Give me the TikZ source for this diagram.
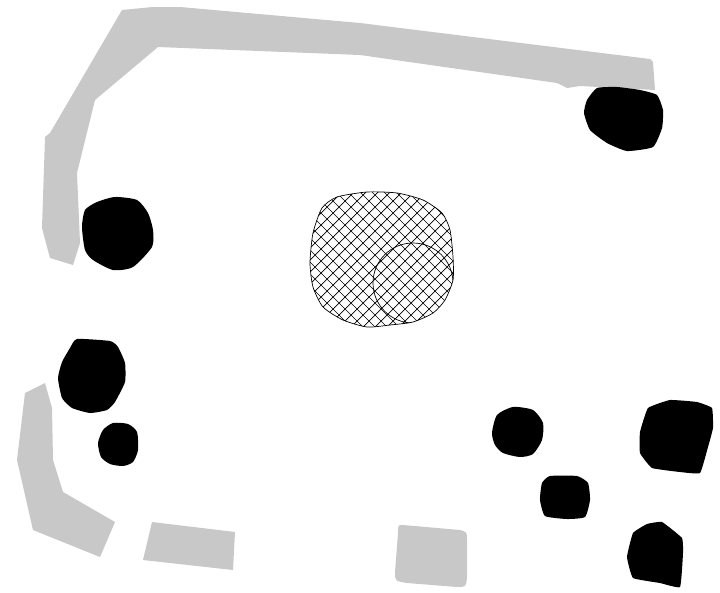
\documentclass[tikz,border=0pt]{standalone}
\begin{document}
\begin{tikzpicture}[x=1pt,y=-1pt,
  greyblock/.style={fill=greyc,draw=none},
  blackblob/.style={fill=black,draw=none},
  hatchline/.style={line width=0.7pt,black},
  outline/.style={line width=0.7pt,black}]
\definecolor{greyc}{RGB}{200,200,200}
\useasboundingbox[fill=white] (0,0) rectangle (720,592);
% grey top bracket
\fill[greyc] (122,10) -- (153,7) -- (180,7) -- (360,23) -- (650,59) -- (653,62) -- (655,90)
  -- (580,86) -- (567,88) -- (557,83) -- (360,55) -- (158,47) -- (95,100) -- (77,173)
  -- (80,243) -- (73,265) -- (50,258) -- (42,228) -- (45,137) -- (50,133) -- cycle;
% grey lower-left L
\fill[greyc] (25,393) -- (45,383) -- (52,408) -- (53,460) -- (63,492) -- (115,522)
  -- (100,557) -- (33,530) -- (17,460) -- cycle;
% grey bottom rectangle
\fill[greyc] (152,522) -- (235,532) -- (233,570) -- (143,560) -- cycle;
% grey rounded square
\fill[greyc] (403,525) -- (460,530) .. controls (467,532) .. (467,540) -- (467,577)
  .. controls (466,587) .. (457,587) -- (407,583) .. controls (395,581) .. (395,572)
  -- (398,533) .. controls (398,525) .. (403,525) -- cycle;
% black blobs
\fill[black] plot[smooth cycle,tension=0.4] coordinates {(97,202) (115,197) (137,200) (148,213) (153,230) (152,247) (133,267) (113,270) (93,260) (85,250) (82,227) (85,210)};
\fill[black] plot[smooth cycle,tension=0.3] coordinates {(587,100) (597,88) (617,87) (640,90) (657,95) (663,110) (662,128) (653,147) (627,151) (607,143) (590,130) (584,113)};
\fill[black] plot[smooth cycle,tension=0.3] coordinates {(77,339) (110,341) (118,347) (125,363) (125,382) (115,402) (107,410) (90,413) (72,408) (62,398) (58,378) (62,362) (70,348)};
\fill[black] plot[smooth cycle,tension=0.4] coordinates {(113,423) (128,424) (137,432) (138,450) (133,462) (123,466) (110,464) (101,457) (98,443) (103,430)};
\fill[black] plot[smooth cycle,tension=0.4] coordinates {(492,433) (497,415) (513,407) (533,410) (543,423) (542,440) (533,454) (520,457) (503,453) (495,445)};
\fill[black] plot[smooth cycle,tension=0.3] coordinates {(542,483) (550,476) (577,476) (588,483) (590,500) (585,517) (567,519) (545,516) (540,500)};
\fill[black] plot[smooth cycle,tension=0.2] coordinates {(640,432) (648,408) (670,400) (697,402) (712,408) (713,428) (708,447) (700,473) (680,472) (652,468) (640,453)};
\fill[black] plot[smooth cycle,tension=0.2] coordinates {(633,533) (647,524) (662,522) (682,538) (683,553) (680,587) (660,583) (633,578) (627,557)};
% hatched blob
\begin{scope}
\clip plot[smooth cycle,tension=0.4] coordinates {(322,208) (337,197) (367,192) (397,193) (423,200) (442,213) (450,230) (453,257) (453,280) (445,300) (433,313) (413,322) (390,325) (367,327) (343,320) (323,307) (313,287) (310,263) (313,233)};
\foreach \c in {486,498,...,800} {\draw[hatchline] (\c-185,185) -- (\c-335,335);}
\foreach \c in {-36,-24,...,280} {\draw[hatchline] (185+\c,185) -- (335+\c,335);}
\draw[outline] (413,283) circle[radius=40];
\end{scope}
\draw[outline] plot[smooth cycle,tension=0.4] coordinates {(322,208) (337,197) (367,192) (397,193) (423,200) (442,213) (450,230) (453,257) (453,280) (445,300) (433,313) (413,322) (390,325) (367,327) (343,320) (323,307) (313,287) (310,263) (313,233)};
\end{tikzpicture}
\end{document}
